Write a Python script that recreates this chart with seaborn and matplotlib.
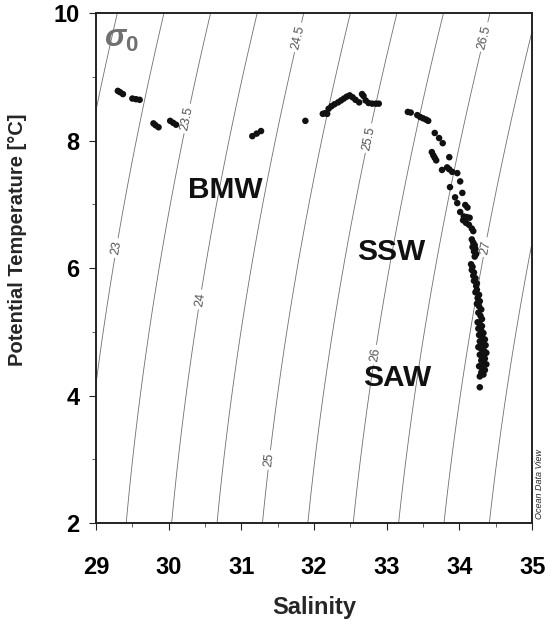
import numpy as np
import pandas as pd
import matplotlib
matplotlib.use("Agg")
import matplotlib.pyplot as plt
from matplotlib.ticker import MultipleLocator
import seaborn as sns

# ---- data ----
salinity = [
    29.30, 29.33, 29.37, 29.50, 29.55, 29.60, 29.79, 29.82, 29.86,
    30.02, 30.06, 30.10, 31.15, 31.21, 31.27, 31.88,
    32.12, 32.15, 32.18, 32.20, 32.24, 32.28, 32.33, 32.37, 32.41, 32.45,
    32.49, 32.53, 32.57, 32.62, 32.66, 32.68, 32.71, 32.75, 32.80, 32.85, 32.89,
    33.29, 33.33, 33.42, 33.46, 33.50, 33.54, 33.57,
    33.66, 33.72, 33.77, 33.62, 33.64, 33.66, 33.68, 33.86,
    33.76, 33.83, 33.86, 33.90, 33.97, 34.01, 33.87, 34.04, 33.94, 33.97,
    34.08, 34.11, 34.01, 34.06, 34.10, 34.14,
    34.05, 34.09, 34.13, 34.17, 34.19,
    34.17, 34.19, 34.21, 34.18, 34.22, 34.20, 34.23, 34.21,
    34.16, 34.18, 34.17, 34.20, 34.19, 34.22, 34.20, 34.24, 34.23,
    34.24, 34.22, 34.27, 34.25, 34.28, 34.24, 34.27, 34.30, 34.26, 34.29, 34.31,
    34.25, 34.28, 34.31, 34.26, 34.30, 34.33, 34.27, 34.31, 34.35, 34.28,
    34.32, 34.36, 34.26, 34.30, 34.34, 34.37, 34.28, 34.32, 34.35, 34.30,
    34.33, 34.37, 34.27, 34.31, 34.35, 34.30, 34.33, 34.28, 34.28,
]
temperature = [
    8.78, 8.76, 8.73, 8.66, 8.65, 8.64, 8.27, 8.24, 8.21,
    8.31, 8.28, 8.25, 8.07, 8.11, 8.15, 8.31,
    8.42, 8.43, 8.42, 8.50, 8.54, 8.57, 8.60, 8.63, 8.66, 8.69,
    8.71, 8.68, 8.64, 8.60, 8.73, 8.70, 8.63, 8.59, 8.58, 8.58, 8.58,
    8.45, 8.44, 8.40, 8.37, 8.35, 8.33, 8.31,
    8.12, 8.04, 7.96, 7.82, 7.77, 7.73, 7.69, 7.74,
    7.54, 7.58, 7.55, 7.51, 7.49, 7.36, 7.27, 7.18, 7.11, 7.02,
    6.99, 6.95, 6.88, 6.81, 6.80, 6.79,
    6.75, 6.71, 6.68, 6.62, 6.58,
    6.45, 6.40, 6.36, 6.33, 6.30, 6.26, 6.22, 6.18,
    6.06, 6.02, 5.97, 5.93, 5.88, 5.84, 5.80, 5.76, 5.72,
    5.66, 5.62, 5.58, 5.53, 5.48, 5.44, 5.40, 5.35, 5.30, 5.25, 5.20,
    5.15, 5.12, 5.09, 5.05, 5.02, 4.98, 4.95, 4.92, 4.88, 4.85,
    4.82, 4.79, 4.76, 4.73, 4.70, 4.67, 4.64, 4.61, 4.58, 4.55,
    4.52, 4.49, 4.46, 4.43, 4.40, 4.36, 4.33, 4.30, 4.13,
]
sigma_levels = [22.5, 23.0, 23.5, 24.0, 24.5, 25.0, 25.5, 26.0, 26.5, 27.0, 27.5]
label_pos = [(29.30, 6.31), (30.24, 8.35), (30.47, 5.50), (31.78, 9.62),
             (31.39, 2.99), (32.74, 8.04), (32.84, 4.64), (34.36, 9.62), (34.35, 6.33)]
water_masses = ["BMW", "SSW", "SAW"]
water_pos = [(30.78, 7.22), (33.06, 6.25), (33.14, 4.27)]
x_ticks = [29, 30, 31, 32, 33, 34, 35]
y_ticks = [2, 4, 6, 8, 10]

df = pd.DataFrame({"Salinity": salinity, "Temperature": temperature})


def sigma0(S, T):
    rw = (999.842594 + 6.793952e-2 * T - 9.095290e-3 * T**2 + 1.001685e-4 * T**3
          - 1.120083e-6 * T**4 + 6.536332e-9 * T**5)
    A = 0.824493 - 4.0899e-3 * T + 7.6438e-5 * T**2 - 8.2467e-7 * T**3 + 5.3875e-9 * T**4
    B = -5.72466e-3 + 1.0227e-4 * T - 1.6546e-6 * T**2
    C = 4.8314e-4
    return rw + A * S + B * S**1.5 + C * S**2 - 1000.0


sns.set_style("ticks")
plt.rcParams["font.family"] = ["Liberation Sans", "DejaVu Sans"]
plt.rcParams["mathtext.fontset"] = "custom"
plt.rcParams["mathtext.it"] = "Liberation Sans:bold:italic"
plt.rcParams["mathtext.rm"] = "Liberation Sans:bold"

fig = plt.figure(figsize=(5.52, 6.26), dpi=100)
ax = fig.add_axes([0.174, 0.1645, 0.79, 0.8145])
ax.set_xlim(29, 35)
ax.set_ylim(2, 10)

sg, tg = np.meshgrid(np.linspace(28.5, 35.5, 300), np.linspace(1.5, 10.5, 300))
cs = ax.contour(sg, tg, sigma0(sg, tg), levels=sigma_levels,
                colors="#707070", linewidths=0.6, zorder=1)
ax.clabel(cs, manual=label_pos, fmt=lambda v: f"{v:g}", fontsize=9,
          colors="#555555", inline=True, inline_spacing=3)

sns.scatterplot(data=df, x="Salinity", y="Temperature", ax=ax, color="#111111",
                s=22, edgecolor="none", zorder=3, legend=False)

for name, (xx, yy) in zip(water_masses, water_pos):
    ax.text(xx, yy, name, fontsize=21.5, fontweight="bold", ha="center", va="center",
            color="#111111")

ax.text(29.11, 9.60, r"$\sigma_{\mathit{0}}$", fontsize=23,
        color="#707070", ha="left", va="center")

ax.text(1.016, 0.077, "Ocean Data View", transform=ax.transAxes, rotation=90,
        fontsize=6.5, style="italic", ha="center", va="center")

ax.set_xticks(x_ticks)
ax.set_yticks(y_ticks)
ax.xaxis.set_minor_locator(MultipleLocator(0.5))
ax.yaxis.set_minor_locator(MultipleLocator(1))
ax.tick_params(axis="both", which="major", length=5, width=0.8, labelsize=17,
               colors="#222222")
ax.tick_params(axis="both", which="minor", length=3, width=0.6, colors="#444444")
ax.tick_params(axis="x", which="major", pad=19)
ax.tick_params(axis="y", which="major", pad=7)
for lab in ax.get_xticklabels() + ax.get_yticklabels():
    lab.set_fontweight("bold")
    lab.set_color("black")
for sp in ax.spines.values():
    sp.set_linewidth(1.4)
    sp.set_color("#222222")

ax.set_xlabel("Salinity", fontsize=17, fontweight="bold", labelpad=12)
ax.set_ylabel("Potential Temperature [°C]", fontsize=14.5, fontweight="bold")
ax.yaxis.set_label_coords(-0.158, 0.555)

fig.savefig("out.png", dpi=100, facecolor="white")
